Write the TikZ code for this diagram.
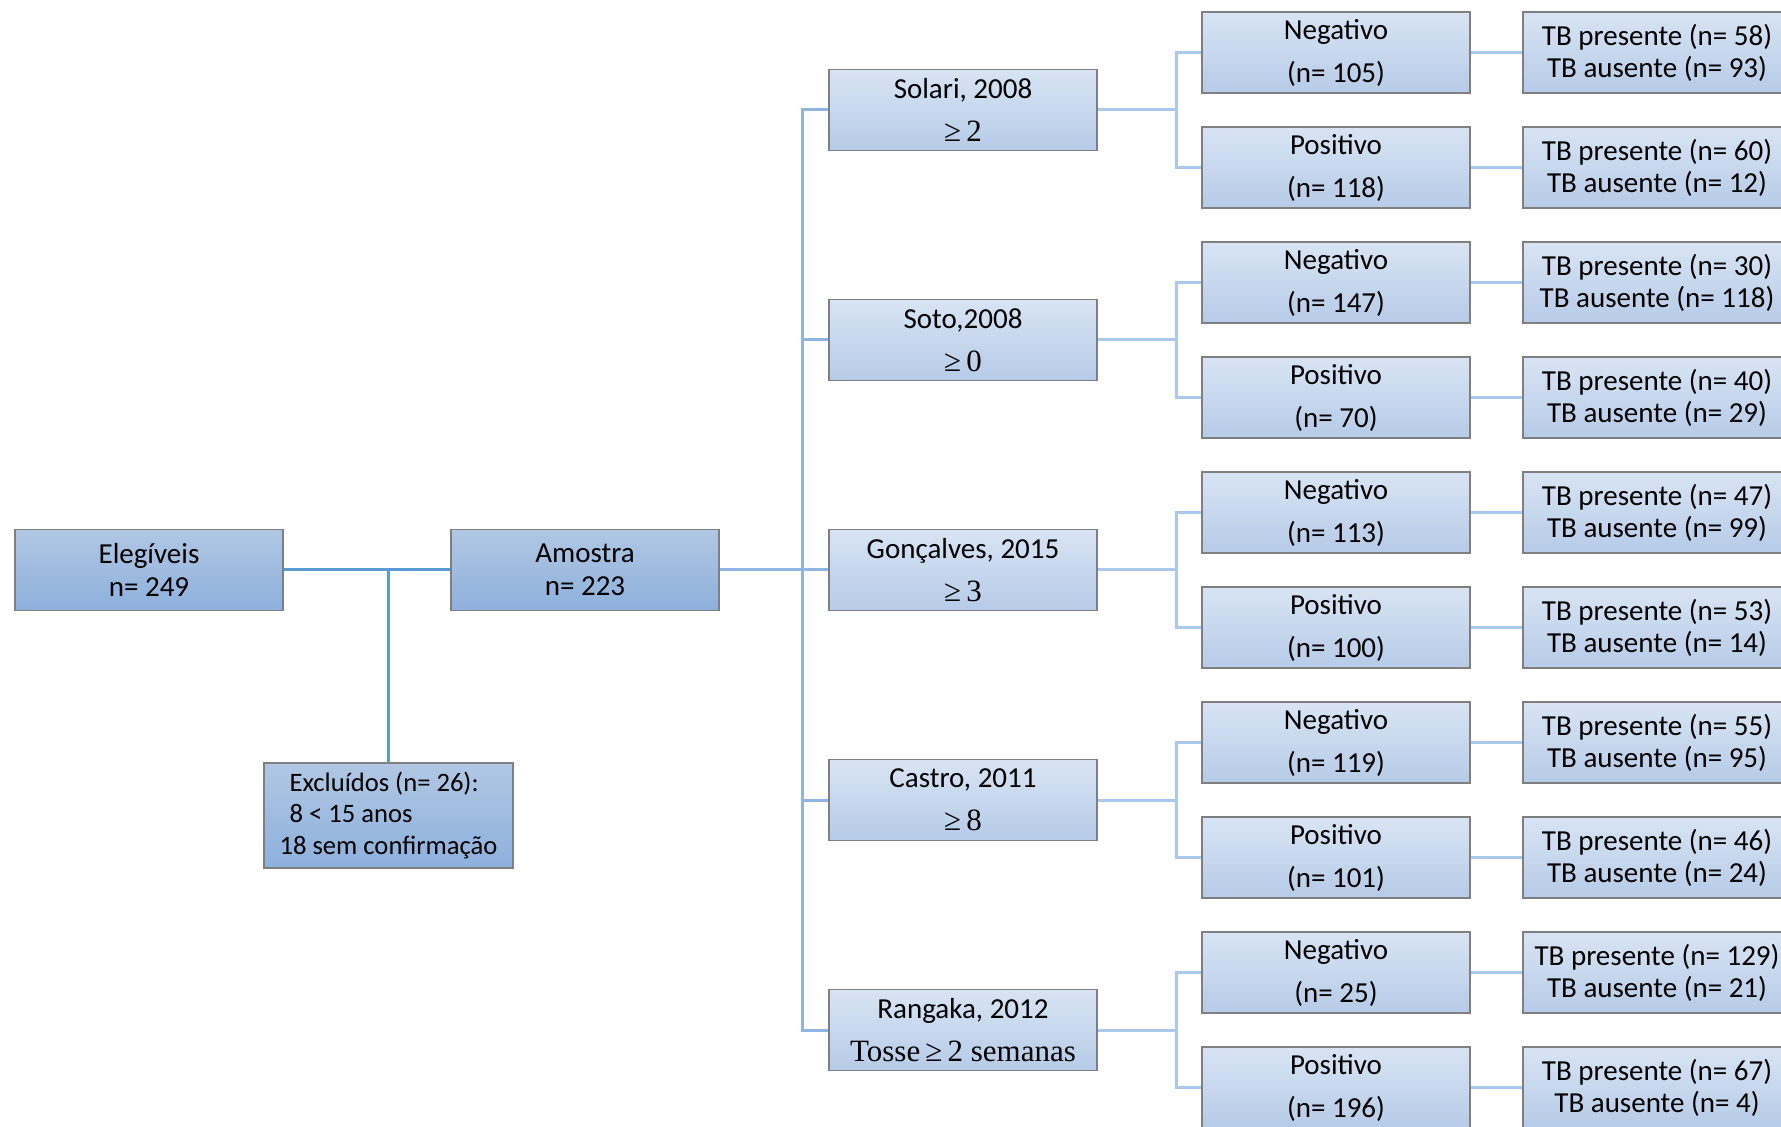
\documentclass[tikz,border=0pt]{standalone}
\usepackage{fontspec}
\setmainfont{Carlito}
\newfontfamily\timesfont{Liberation Serif}
\begin{document}
\begin{tikzpicture}[x=0.5pt,y=-0.5pt]

\definecolor{boxline}{HTML}{7F7F7F}
\definecolor{darktop}{HTML}{B1C7E3}
\definecolor{darkbot}{HTML}{8DB0DC}
\definecolor{lighttop}{HTML}{D8E4F3}
\definecolor{lightbot}{HTML}{B6CBE8}
\definecolor{edgeone}{HTML}{5B9BD5}
\definecolor{edgetwo}{HTML}{8DB4E2}
\definecolor{edgethree}{HTML}{A9C8EC}

\tikzset{mainbox/.style = {draw=boxline, line width=0.75pt, top color=darktop, bottom color=darkbot,
    minimum width=134pt, minimum height=40.5pt, inner sep=0pt, align=center,
    font=\fontsize{14.5}{16.5}\selectfont}}
\tikzset{studybox/.style = {mainbox, top color=lighttop, bottom color=lightbot,
    font=\fontsize{14.5}{21.5}\selectfont}}
\tikzset{tbbox/.style = {studybox, font=\fontsize{14.5}{16}\selectfont}}
\tikzset{edgeA/.style = {draw=edgeone, line width=1.5pt}}
\tikzset{edgeB/.style = {draw=edgetwo, line width=1.5pt}}
\tikzset{edgeC/.style = {draw=edgethree, line width=1.5pt}}

\useasboundingbox (0,0) rectangle (1781,1127);

%boxes
\node[mainbox] (eleg) at (149,570) {Elegíveis\\n= 249};
\node[mainbox] (amostra) at (585,570) {Amostra\\n= 223};
\node[mainbox, minimum width=124.5pt, minimum height=52.5pt, align=left,
    font=\fontsize{13.3}{15.8}\selectfont] (excl) at (388.5,815.5)
    {\hspace{5pt}Excluídos (n= 26):\\\hspace{5pt}8 < 15 anos\\18 sem confirmação};

\node[studybox] (solari) at (963,110) {Solari, 2008\\{\timesfont\fontsize{15.5}{21.5}\selectfont ≥\thinspace 2}};
\node[studybox] (soto) at (963,340) {Soto,2008\\{\timesfont\fontsize{15.5}{21.5}\selectfont ≥\thinspace 0}};
\node[studybox] (goncalves) at (963,570) {Gonçalves, 2015\\{\timesfont\fontsize{15.5}{21.5}\selectfont ≥\thinspace 3}};
\node[studybox] (castro) at (963,800) {Castro, 2011\\{\timesfont\fontsize{15.5}{21.5}\selectfont ≥\thinspace 8}};
\node[studybox] (rangaka) at (963,1030) {Rangaka, 2012\\{\timesfont\fontsize{15.5}{21.5}\selectfont Tosse\thinspace ≥\thinspace 2 semanas}};

\node[studybox] (solarineg) at (1336,52.5) {Negativo\\(n= 105)};
\node[studybox] (solaripos) at (1336,167.5) {Positivo\\(n= 118)};
\node[studybox] (sotoneg) at (1336,282.5) {Negativo\\(n= 147)};
\node[studybox] (sotopos) at (1336,397.5) {Positivo\\(n= 70)};
\node[studybox] (goncalvesneg) at (1336,512.5) {Negativo\\(n= 113)};
\node[studybox] (goncalvespos) at (1336,627.5) {Positivo\\(n= 100)};
\node[studybox] (castroneg) at (1336,742.5) {Negativo\\(n= 119)};
\node[studybox] (castropos) at (1336,857.5) {Positivo\\(n= 101)};
\node[studybox] (rangakaneg) at (1336,972.5) {Negativo\\(n= 25)};
\node[studybox] (rangakapos) at (1336,1087.5) {Positivo\\(n= 196)};

\node[tbbox] (solarinegtb) at (1657,52.5) {TB presente (n= 58)\\TB ausente (n= 93)};
\node[tbbox] (solaripostb) at (1657,167.5) {TB presente (n= 60)\\TB ausente (n= 12)};
\node[tbbox] (sotonegtb) at (1657,282.5) {TB presente (n= 30)\\TB ausente (n= 118)};
\node[tbbox] (sotopostb) at (1657,397.5) {TB presente (n= 40)\\TB ausente (n= 29)};
\node[tbbox] (goncalvesnegtb) at (1657,512.5) {TB presente (n= 47)\\TB ausente (n= 99)};
\node[tbbox] (goncalvespostb) at (1657,627.5) {TB presente (n= 53)\\TB ausente (n= 14)};
\node[tbbox] (castronegtb) at (1657,742.5) {TB presente (n= 55)\\TB ausente (n= 95)};
\node[tbbox] (castropostb) at (1657,857.5) {TB presente (n= 46)\\TB ausente (n= 24)};
\node[tbbox] (rangakanegtb) at (1657,972.5) {TB presente (n= 129)\\TB ausente (n= 21)};
\node[tbbox] (rangakapostb) at (1657,1087.5) {TB presente (n= 67)\\TB ausente (n= 4)};

%hubs
\coordinate (hub) at (802,570);
\coordinate (solarihub) at (1176,110);
\coordinate (sotohub) at (1176,340);
\coordinate (goncalveshub) at (1176,570);
\coordinate (castrohub) at (1176,800);
\coordinate (rangakahub) at (1176,1030);

%edges
\draw[edgeA] (eleg) -- (amostra);
\draw[edgeA] (excl.north) -- (excl.north |- eleg);

\draw[edgeB] (amostra) -- (hub);
\draw[edgeB] (solari.west) -| (hub);
\draw[edgeB] (soto.west) -| (hub);
\draw[edgeB] (goncalves.west) -- (hub);
\draw[edgeB] (castro.west) -| (hub);
\draw[edgeB] (rangaka.west) -| (hub);

\draw[edgeC] (solari) -- (solarihub);
\draw[edgeC] (solarineg.west) -| (solarihub) |- (solaripos.west);
\draw[edgeC] (soto) -- (sotohub);
\draw[edgeC] (sotoneg.west) -| (sotohub) |- (sotopos.west);
\draw[edgeC] (goncalves) -- (goncalveshub);
\draw[edgeC] (goncalvesneg.west) -| (goncalveshub) |- (goncalvespos.west);
\draw[edgeC] (castro) -- (castrohub);
\draw[edgeC] (castroneg.west) -| (castrohub) |- (castropos.west);
\draw[edgeC] (rangaka) -- (rangakahub);
\draw[edgeC] (rangakaneg.west) -| (rangakahub) |- (rangakapos.west);

\draw[edgeC] (solarineg) -- (solarinegtb);
\draw[edgeC] (solaripos) -- (solaripostb);
\draw[edgeC] (sotoneg) -- (sotonegtb);
\draw[edgeC] (sotopos) -- (sotopostb);
\draw[edgeC] (goncalvesneg) -- (goncalvesnegtb);
\draw[edgeC] (goncalvespos) -- (goncalvespostb);
\draw[edgeC] (castroneg) -- (castronegtb);
\draw[edgeC] (castropos) -- (castropostb);
\draw[edgeC] (rangakaneg) -- (rangakanegtb);
\draw[edgeC] (rangakapos) -- (rangakapostb);

\end{tikzpicture}
\end{document}
